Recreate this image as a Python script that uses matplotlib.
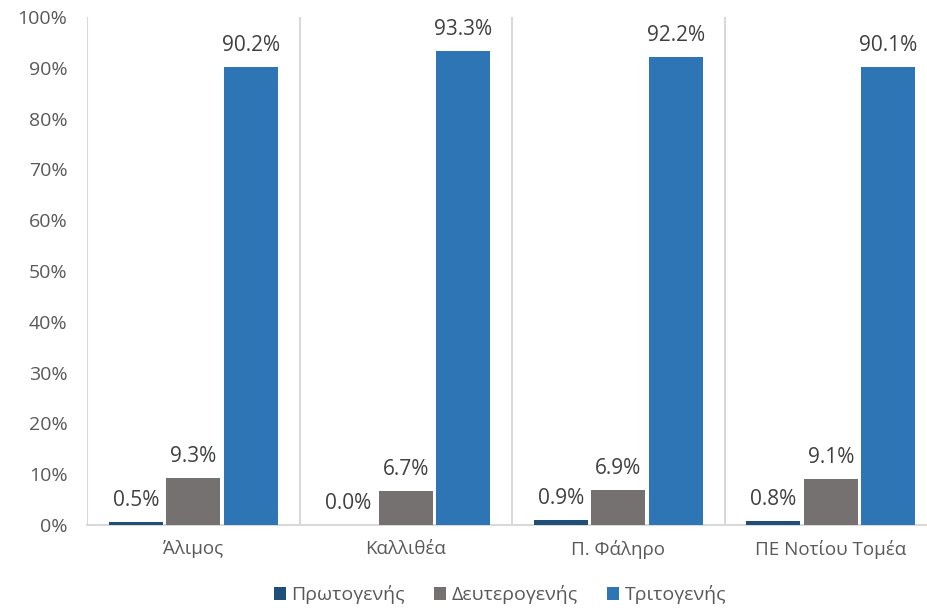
import matplotlib.pyplot as plt
import numpy as np

plt.rcParams['font.family'] = ['Open Sans', 'DejaVu Sans']

areas = ['Άλιμος', 'Καλλιθέα', 'Π. Φάληρο', 'ΠΕ Νοτίου Τομέα']
series = ['Πρωτογενής', 'Δευτερογενής', 'Τριτογενής']
primary = [0.5, 0.0, 0.9, 0.8]
secondary = [9.3, 6.7, 6.9, 9.1]
tertiary = [90.2, 93.3, 92.2, 90.1]
colors = ['#1F4E79', '#767171', '#2E75B6']

W, H = 927, 608
fig = plt.figure(figsize=(W / 100, H / 100), dpi=100)
ax = fig.add_axes([87 / W, 83 / H, 850 / W, 508 / H])

x = np.arange(len(areas))
width = 0.254
step = 0.27
text_col = '#404040'
tick_col = '#595959'
for i, (vals, name, col) in enumerate(zip([primary, secondary, tertiary], series, colors)):
    pos = x + (i - 1) * step
    bars = ax.bar(pos, vals, width, color=col, label=name, zorder=3)
    for b, v in zip(bars, vals):
        ax.annotate(f'{v:.1f}%', (b.get_x() + b.get_width() / 2, v),
                    xytext=(0, 8), textcoords='offset points',
                    ha='center', va='bottom', fontsize=15, color=text_col)

ax.set_xlim(-0.5, len(areas) - 0.5)
ax.set_ylim(0, 100)
ax.set_yticks(np.arange(0, 101, 10))
ax.set_yticklabels([f'{t}%' for t in range(0, 101, 10)])
ax.set_xticks(x)
ax.set_xticklabels(areas)
ax.tick_params(axis='both', length=0, colors=tick_col)
ax.tick_params(axis='y', pad=14, labelsize=14)
ax.tick_params(axis='x', pad=11, labelsize=13.5)

for s in ['top', 'right', 'left']:
    ax.spines[s].set_visible(False)
ax.spines['bottom'].set_color('#D9D9D9')
ax.spines['bottom'].set_linewidth(1.5)
for b in np.arange(-0.5, len(areas), 1.0):
    ax.axvline(b, color='#D9D9D9', lw=1.5, zorder=1)

fig.legend(loc='center', bbox_to_anchor=(500 / W, 1 - 595 / H), ncol=3,
           frameon=False, fontsize=14, handlelength=0.6, handleheight=0.6,
           handletextpad=0.3, columnspacing=1.5, labelcolor=tick_col)

fig.savefig('out.png', dpi=100)
